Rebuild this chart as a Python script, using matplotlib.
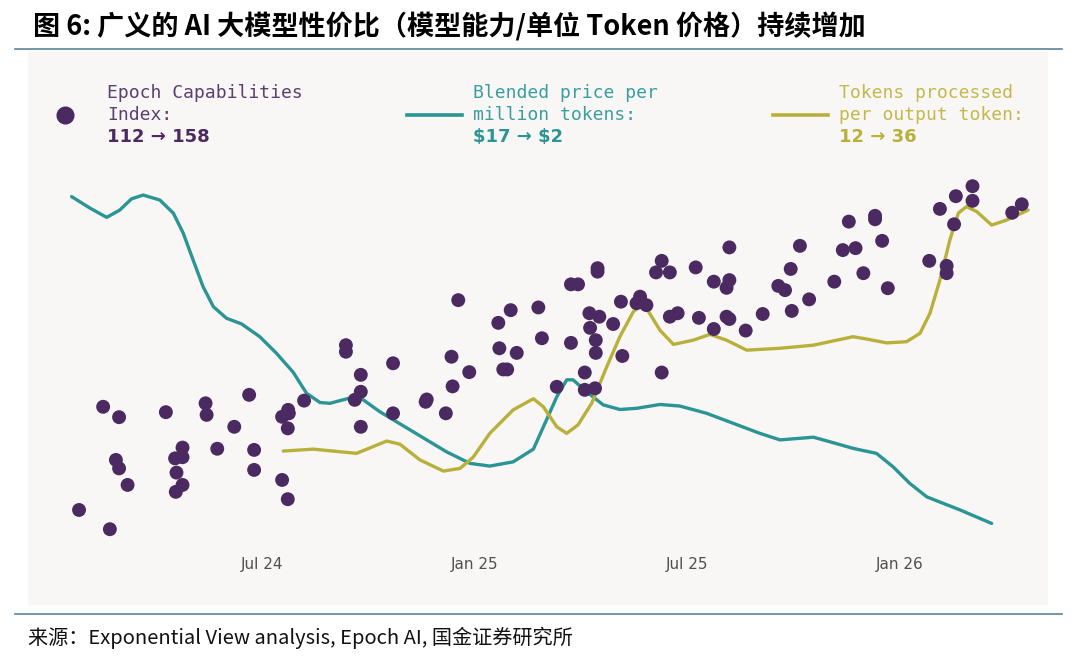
import matplotlib
matplotlib.use("Agg")
import matplotlib.pyplot as plt
from matplotlib.patches import Rectangle
from matplotlib.lines import Line2D

plt.rcParams["font.family"] = ["Noto Sans CJK SC", "DejaVu Sans"]

#%% Data (x: months since Jul 2024, y: relative chart units 0-100)
eci_month = [-5.16, -4.29, -4.48, -4.03, -4.12, -4.03, -3.79, -2.71, -2.24, -2.45,
             -2.24, -2.41, -2.24, -2.43, -1.59, -1.56, -1.26, -0.78, -0.36, -0.22,
             -0.22, 0.57, 0.74, 0.76, 0.73, 0.57, 0.73, 1.19, 2.37, 2.37,
             2.79, 2.79, 2.62, 2.79, 3.70, 3.70, 4.62, 4.65, 5.19, 5.35,
             5.38, 5.54, 5.85, 6.67, 6.70, 6.81, 6.92, 7.02, 7.19, 7.80,
             7.90, 8.32, 8.72, 8.92, 8.72, 9.11, 9.11, 9.40, 9.24, 9.26,
             9.42, 9.42, 9.47, 9.47, 9.52, 9.91, 10.13, 10.17, 10.67, 10.57,
             10.85, 11.28, 11.12, 11.51, 11.28, 11.51, 11.73, 12.24, 12.33, 12.75,
             13.19, 13.19, 13.11, 13.11, 13.19, 12.75, 13.65, 14.13, 14.57, 14.76,
             14.92, 14.95, 15.18, 15.44, 16.15, 16.39, 16.75, 16.56, 16.97, 17.30,
             17.30, 17.50, 17.66, 18.83, 19.32, 19.32, 19.13, 19.53, 19.58, 20.05,
             20.05, 21.17, 21.44]
eci_value = [9.1, 4.1, 35.9, 33.2, 22.1, 19.9, 15.6, 34.5, 25.3, 22.5,
             22.8, 18.8, 15.6, 13.8, 36.8, 33.8, 25.0, 30.7, 39.0, 24.7,
             19.5, 33.3, 35.1, 34.2, 30.3, 16.9, 11.9, 37.5, 51.9, 50.2,
             44.2, 39.8, 37.7, 30.7, 47.2, 34.2, 37.2, 37.8, 34.2, 48.9,
             41.2, 63.6, 44.9, 57.7, 51.1, 45.6, 45.6, 61.0, 49.9, 61.7,
             53.7, 41.1, 67.7, 67.7, 52.5, 44.8, 40.3, 40.7, 60.2, 56.4,
             53.2, 49.9, 71.9, 71.0, 59.3, 57.4, 63.2, 49.1, 64.5, 62.8,
             62.3, 73.8, 70.8, 70.8, 44.8, 59.3, 60.2, 72.1, 59.0, 68.4,
             77.3, 68.8, 66.8, 59.3, 58.7, 56.1, 55.7, 60.0, 67.3, 66.2,
             71.7, 60.8, 77.7, 63.8, 68.4, 76.6, 77.1, 84.0, 70.6, 85.5,
             84.6, 79.0, 66.7, 73.8, 72.5, 70.6, 87.3, 83.3, 90.6, 93.2,
             89.4, 86.3, 88.5]

price_month = [-5.37, -4.85, -4.38, -4.01, -3.68, -3.35, -2.88, -2.50, -2.22, -1.94,
               -1.66, -1.37, -1.00, -0.57, -0.06, 0.41, 0.88, 1.26, 1.64, 1.92,
               2.20, 2.58, 2.86, 3.33, 4.27, 5.21, 5.87, 6.43, 7.09, 7.66,
               8.03, 8.32, 8.60, 8.78, 9.16, 9.63, 10.10, 10.57, 11.23, 11.79,
               12.55, 13.30, 14.05, 14.62, 15.56, 16.03, 16.68, 17.34, 17.81, 18.28,
               18.76, 19.70, 20.59]
price_value = [90.5, 87.5, 85.1, 87.0, 89.9, 90.9, 89.6, 86.2, 81.0, 74.0,
               67.1, 61.9, 58.9, 57.4, 54.1, 49.8, 44.9, 39.4, 37.0, 36.8,
               37.5, 38.4, 37.7, 34.6, 29.4, 24.2, 21.2, 20.5, 21.6, 24.9,
               32.5, 38.5, 42.9, 42.9, 39.8, 36.4, 35.2, 35.5, 36.5, 36.1,
               34.2, 31.6, 29.0, 27.3, 28.0, 26.8, 25.1, 23.8, 20.3, 16.0,
               12.5, 9.1, 5.6]

tokens_month = [0.60, 1.45, 2.67, 3.52, 3.89, 4.46, 5.12, 5.59, 5.96, 6.43,
                7.09, 7.66, 7.94, 8.32, 8.60, 8.92, 9.31, 9.73, 10.10, 10.48,
                10.67, 10.85, 11.23, 11.61, 12.17, 12.64, 13.11, 13.68, 14.62, 15.56,
                16.22, 16.68, 17.06, 17.63, 18.19, 18.57, 18.85, 19.13, 19.41, 19.65,
                19.88, 20.17, 20.59, 21.01, 21.62]
tokens_value = [24.4, 24.9, 23.8, 27.0, 26.2, 22.1, 19.2, 19.9, 22.8, 29.0,
                35.1, 38.0, 35.9, 30.7, 29.0, 31.2, 36.9, 46.3, 54.1, 60.6,
                62.1, 61.5, 55.8, 52.1, 53.2, 54.7, 53.2, 50.6, 51.1, 51.9,
                53.2, 54.1, 53.5, 52.5, 52.8, 55.0, 60.2, 68.8, 79.2, 86.2,
                87.9, 86.6, 83.1, 84.4, 87.0]

tick_months = [0, 6, 12, 18]
tick_labels = ["Jul 24", "Jan 25", "Jul 25", "Jan 26"]

PURPLE = "#4a2a60"
TEAL = "#2b9494"
OLIVE = "#b9b03a"
RULE = "#5b8497"

#%% Figure
W, H = 1080, 663
fig = plt.figure(figsize=(W / 100, H / 100), dpi=100)


def fx(px):
    return px / W


def fy(py):
    return 1 - py / H


# gray chart panel
fig.patches.append(Rectangle((fx(28), fy(605)), fx(1048) - fx(28), fy(52) - fy(605),
                             transform=fig.transFigure, facecolor="#f8f7f6",
                             edgecolor="none", zorder=-5))
# rules
for y in (49, 614):
    fig.add_artist(Line2D([fx(15), fx(1062)], [fy(y), fy(y)], color=RULE, lw=1.2))

fig.text(fx(33), fy(27), "图 6: 广义的 AI 大模型性价比（模型能力/单位 Token 价格）持续增加",
         fontsize=19.5, fontweight="bold", style="italic", va="center", ha="left")
fig.text(fx(28), fy(638), "来源：Exponential View analysis, Epoch AI, 国金证券研究所",
         fontsize=14.5, va="center", ha="left", color="#111111")

ax = fig.add_axes([fx(28), fy(545), fx(1048) - fx(28), fy(160) - fy(545)])
ax.patch.set_alpha(0)
ax.set_xlim(-6.60, 22.18)
ax.set_ylim(0, 100)
for s in ax.spines.values():
    s.set_visible(False)
ax.set_yticks([])
ax.set_xticks(tick_months)
ax.set_xticklabels(tick_labels, fontsize=11, color="#505050", family=["DejaVu Sans"])
ax.tick_params(axis="x", length=0, pad=9)

ax.plot(price_month, price_value, color=TEAL, lw=2.4, solid_joinstyle="round",
        solid_capstyle="round", zorder=2)
ax.plot(tokens_month, tokens_value, color=OLIVE, lw=2.4, solid_joinstyle="round",
        solid_capstyle="round", zorder=2)
ax.scatter(eci_month, eci_value, s=100, color=PURPLE, edgecolors="none", zorder=3)

#%% Legend
mono = ["DejaVu Sans Mono"]
fig.add_artist(Line2D([fx(65)], [fy(115)], marker="o", markersize=12,
                      color=PURPLE, lw=0))
fig.text(fx(107), fy(93), "Epoch Capabilities", family=mono, fontsize=13,
         color="#5a3f6f", va="center")
fig.text(fx(107), fy(115), "Index:", family=mono, fontsize=13, color="#5a3f6f", va="center")
fig.text(fx(107), fy(137), "112 → 158", family=["DejaVu Sans"], fontsize=13,
         fontweight="bold", color="#4a2a60", va="center")

fig.add_artist(Line2D([fx(407), fx(462)], [fy(115), fy(115)], color=TEAL, lw=2.6))
fig.text(fx(473), fy(93), "Blended price per", family=mono, fontsize=13,
         color="#3a9e9e", va="center")
fig.text(fx(473), fy(115), "million tokens:", family=mono, fontsize=13,
         color="#3a9e9e", va="center")
fig.text(fx(473), fy(137), r"\$17 → \$2", family=["DejaVu Sans"], fontsize=13,
         fontweight="bold", color="#2b9494", va="center")

fig.add_artist(Line2D([fx(773), fx(828)], [fy(115), fy(115)], color=OLIVE, lw=2.6))
fig.text(fx(839), fy(93), "Tokens processed", family=mono, fontsize=13,
         color="#c4b84a", va="center")
fig.text(fx(839), fy(115), "per output token:", family=mono, fontsize=13,
         color="#c4b84a", va="center")
fig.text(fx(839), fy(137), "12 → 36", family=["DejaVu Sans"], fontsize=13,
         fontweight="bold", color="#b9b03a", va="center")

fig.savefig("out.png", dpi=100, facecolor="white")
